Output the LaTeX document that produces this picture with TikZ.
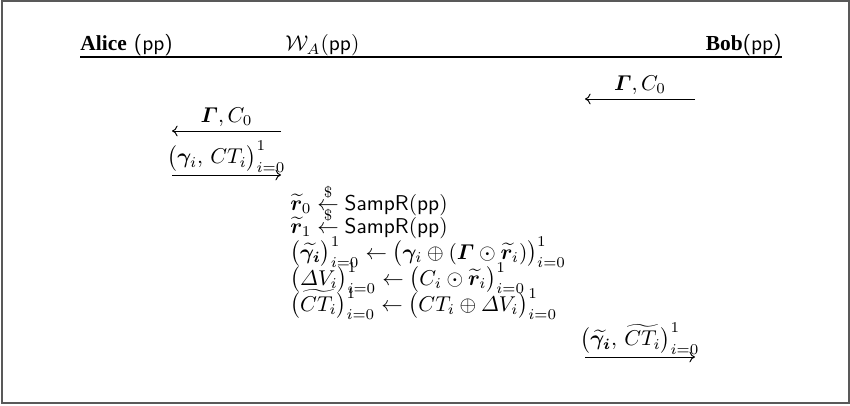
\documentclass[tikz,border=0pt]{standalone}
\usepackage{amsmath,amssymb,bm}
\usepackage{fontspec}
\newfontfamily\timesfont{Liberation Serif}
\usetikzlibrary{arrows.meta}
\tikzset{
  hdr/.style={inner sep=0pt, font=\fontsize{10}{12}\selectfont},
  msg/.style={inner sep=0pt},
  calc/.style={inner sep=0pt, anchor=base west},
  flow/.style={line width=0.45pt, -{To[length=2.6pt,width=5pt]}},
}
\begin{document}
\begin{tikzpicture}[x=0.467pt,y=-0.467pt]
\useasboundingbox (0,0) rectangle (850,406);
\draw[gray!70!black, line width=0.5pt] (2,1) rectangle (849,403);
% header
\node[hdr, anchor=base west] (alice) at (80,51) {{\timesfont\bfseries Alice} \textsf{(pp)}};
\node[hdr, anchor=base west] (wa) at (285,51) {$\mathcal{W}_A(\mathsf{pp})$};
\node[hdr, anchor=base east] (bob) at (782,51) {{\timesfont\bfseries Bob}\textsf{(pp)}};
\coordinate (hl) at (80,57);
\coordinate (hr) at (782,57);
\draw[line width=0.5pt] (hl) -- (hr);
% Bob -> W_A
\coordinate (b1s) at (695,99);
\coordinate (b1e) at (585,99);
\draw[flow] (b1s) -- (b1e) node[msg, midway, above=2pt] (m1) {$\bm{\varGamma}, C_0$};
% W_A -> Alice
\coordinate (a1s) at (281,131);
\coordinate (a1e) at (172,131);
\draw[flow] (a1s) -- (a1e) node[msg, midway, above=2pt] (m2) {$\bm{\varGamma}, C_0$};
% Alice -> W_A
\coordinate (a2s) at (172,175);
\coordinate (a2e) at (281,175);
\draw[flow] (a2s) -- (a2e) node[msg, midway, above=1pt] (m3) {$\big(\bm{\gamma}_i,\, CT_i\big)_{i=0}^{1}$};
% computations
\node[calc] (c1) at (290,210) {$\widetilde{\bm r}_0 \overset{\$}{\leftarrow} \mathsf{SampR}(\mathsf{pp})$};
\node[calc] (c2) at (290,233) {$\widetilde{\bm r}_1 \overset{\$}{\leftarrow} \mathsf{SampR}(\mathsf{pp})$};
\node[calc] (c3) at (290,259) {$\big(\widetilde{\bm{\gamma_i}}\big)_{i=0}^{1} \leftarrow \big(\bm{\gamma}_i \oplus (\bm{\varGamma} \odot \widetilde{\bm r}_i)\big)_{i=0}^{1}$};
\node[calc] (c4) at (290,285) {$\big(\varDelta V_i\big)_{i=0}^{1} \leftarrow \big(C_i \odot \widetilde{\bm r}_i\big)_{i=0}^{1}$};
\node[calc] (c5) at (290,311) {$\big(\widetilde{CT_i}\big)_{i=0}^{1} \leftarrow \big(CT_i \oplus \varDelta V_i\big)_{i=0}^{1}$};
% W_A -> Bob
\coordinate (b2s) at (585,357);
\coordinate (b2e) at (695,357);
\draw[flow] (b2s) -- (b2e) node[msg, midway, above=1pt] (m4) {$\big(\widetilde{\bm{\gamma_i}},\, \widetilde{CT_i}\big)_{i=0}^{1}$};
\end{tikzpicture}
\end{document}
